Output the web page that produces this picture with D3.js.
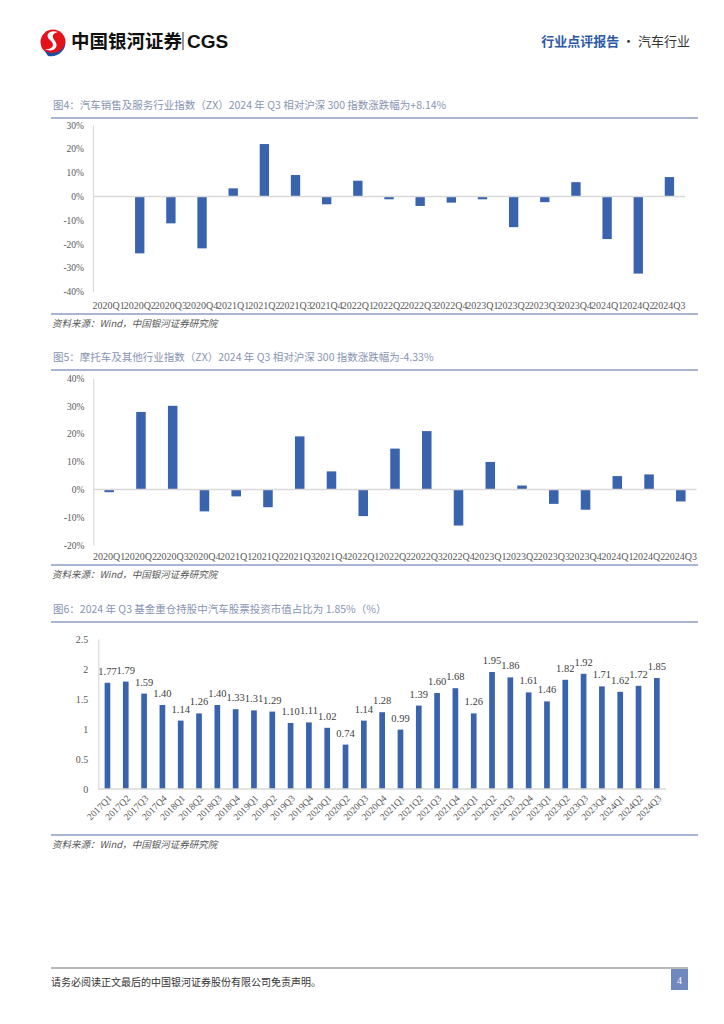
<!DOCTYPE html>
<meta charset="utf-8">
<script src="https://d3js.org/d3.v7.min.js"></script>
<style>
  body { margin: 0; background: #fff; }
  text { font-family: "Liberation Serif", "Noto Sans CJK SC", serif; }
  .cjk { font-family: "Noto Sans CJK SC", sans-serif; }
</style>
<body>
<div id="page"></div>
<script>
// quarters for fig 4 / fig 5
var quarters = ["2020Q1","2020Q2","2020Q3","2020Q4","2021Q1","2021Q2","2021Q3","2021Q4",
  "2022Q1","2022Q2","2022Q3","2022Q4","2023Q1","2023Q2","2023Q3","2023Q4","2024Q1","2024Q2","2024Q3"];
// 汽车销售及服务 relative to 沪深300 (%)
var autoSalesRel = [0, -23.9, -11.3, -21.8, 3.4, 22.0, 9.0, -3.3, 6.6, -1.2, -4.0, -2.6, -1.2, -12.9, -2.4, 6.0, -17.9, -32.4, 8.14];
// 摩托车及其他 relative to 沪深300 (%)
var motoRel = [-1.0, 27.9, 30.1, -7.9, -2.5, -6.4, 19.1, 6.5, -9.6, 14.7, 21.0, -13.0, 9.9, 1.4, -5.2, -7.3, 4.8, 5.4, -4.33];
var ticks4 = [30, 20, 10, 0, -10, -20, -30, -40];
var ticks5 = [40, 30, 20, 10, 0, -10, -20];

// fig 6: fund heavy-holding share of auto stocks (%)
var quarters6 = ["2017Q1","2017Q2","2017Q3","2017Q4","2018Q1","2018Q2","2018Q3","2018Q4",
  "2019Q1","2019Q2","2019Q3","2019Q4","2020Q1","2020Q2","2020Q3","2020Q4","2021Q1","2021Q2",
  "2021Q3","2021Q4","2022Q1","2022Q2","2022Q3","2022Q4","2023Q1","2023Q2","2023Q3","2023Q4",
  "2024Q1","2024Q2","2024Q3"];
var fundShare = [1.77, 1.79, 1.59, 1.40, 1.14, 1.26, 1.40, 1.33, 1.31, 1.29, 1.10, 1.11, 1.02, 0.74,
  1.14, 1.28, 0.99, 1.39, 1.60, 1.68, 1.26, 1.95, 1.86, 1.61, 1.46, 1.82, 1.92, 1.71, 1.62, 1.72, 1.85];
var ticks6 = [0, 0.5, 1, 1.5, 2, 2.5];

var barColor = "#3a63ad";
var ruleColor = "#8b9dc6";
var axisGray = "#d9d9d9";
var labelGray = "#595959";

var svg = d3.select("#page").append("svg")
  .attr("width", 724).attr("height", 1024);

// ---- header ----
var logo = svg.append("g");
logo.append("circle").attr("cx", 53).attr("cy", 42).attr("r", 12.5).attr("fill", "#e3121b");
logo.append("path")
  .attr("d", "M44,50 C52,56 64,52 65,42 C66,50 58,58 48,56 Z")
  .attr("fill", "#1f4fa0");
logo.append("path")
  .attr("d", "M58,32 C50,29 44,35 50,40 C56,45 52,50 45,49 C52,53 60,48 55,41 C51,36 53,33 58,32 Z")
  .attr("fill", "#fff");
svg.append("text").attr("class", "cjk").attr("x", 71).attr("y", 48)
  .attr("font-size", 18.5).attr("font-weight", "bold").attr("fill", "#111")
  .text("中国银河证券");
svg.append("line").attr("x1", 183).attr("x2", 183).attr("y1", 32).attr("y2", 50)
  .attr("stroke", "#333").attr("stroke-width", 1);
svg.append("text").attr("x", 187).attr("y", 48)
  .style("font-family", "Liberation Sans, sans-serif")
  .attr("font-size", 19).attr("font-weight", "bold").attr("fill", "#111")
  .text("CGS");
var hdr = svg.append("text").attr("class", "cjk").attr("x", 690).attr("y", 46)
  .attr("text-anchor", "end").attr("font-size", 13);
hdr.append("tspan").attr("fill", "#2d5aa6").attr("font-weight", "bold").text("行业点评报告");
hdr.append("tspan").attr("fill", "#333").text(" · 汽车行业");

// ---- helpers ----
function chartTitle(y, txt) {
  svg.append("text").attr("class", "cjk").attr("x", 53).attr("y", y)
    .attr("font-size", 10.5).attr("fill", "#8794b3").text(txt);
  svg.append("line").attr("x1", 51).attr("x2", 698).attr("y1", y + 9).attr("y2", y + 9)
    .attr("stroke", ruleColor).attr("stroke-width", 1.5);
}
function sourceNote(y) {
  svg.append("line").attr("x1", 51).attr("x2", 698).attr("y1", y).attr("y2", y)
    .attr("stroke", ruleColor).attr("stroke-width", 1.5);
  svg.append("text").attr("class", "cjk").attr("x", 52).attr("y", y + 13)
    .attr("font-size", 9.5).attr("fill", "#555").attr("font-style", "italic")
    .text("资料来源：Wind，中国银河证券研究院");
}

function diverging(o) {
  var x = d3.scaleBand().domain(quarters).range([o.x0, o.x1])
    .paddingInner(0.7).paddingOuter(0.35);
  var y = d3.scaleLinear().domain(o.domain).range([o.yBottom, o.yTop]);

  var ya = svg.append("g").attr("transform", "translate(" + o.x0 + ",0)")
    .call(d3.axisLeft(y).tickValues(o.ticks).tickSize(0).tickPadding(9)
      .tickFormat(function(d) { return d + "%"; }));
  ya.select(".domain").attr("stroke", axisGray).attr("stroke-width", 1.2);
  ya.selectAll("text").attr("font-size", 9.5).attr("fill", labelGray)
    .style("font-family", "Liberation Serif, serif");

  svg.append("g").selectAll("rect").data(o.values).join("rect")
    .attr("x", function(d, i) { return x(quarters[i]); })
    .attr("width", x.bandwidth())
    .attr("y", function(d) { return y(Math.max(0, d)); })
    .attr("height", function(d) { return Math.abs(y(d) - y(0)); })
    .attr("fill", barColor);

  svg.append("line").attr("x1", o.x0).attr("x2", o.x1)
    .attr("y1", y(0)).attr("y2", y(0))
    .attr("stroke", axisGray).attr("stroke-width", 1.5);

  var xa = svg.append("g").attr("transform", "translate(0," + o.xLabelY + ")")
    .call(d3.axisBottom(x).tickSize(0).tickPadding(0));
  xa.select(".domain").remove();
  xa.selectAll("text").attr("font-size", 10).attr("fill", labelGray)
    .style("font-family", "Liberation Serif, serif");
}

// ---- fig 4 ----
chartTitle(109, "图4：汽车销售及服务行业指数（ZX）2024 年 Q3 相对沪深 300 指数涨跌幅为+8.14%");
diverging({ values: autoSalesRel, ticks: ticks4, domain: [-40, 30],
  x0: 93, x1: 685, yTop: 125, yBottom: 291.7, xLabelY: 302 });
sourceNote(314);

// ---- fig 5 ----
chartTitle(361, "图5：摩托车及其他行业指数（ZX）2024 年 Q3 相对沪深 300 指数涨跌幅为-4.33%");
diverging({ values: motoRel, ticks: ticks5, domain: [-20, 40],
  x0: 93.3, x1: 696.7, yTop: 378.3, yBottom: 545, xLabelY: 553 });
sourceNote(565);

// ---- fig 6 ----
chartTitle(613, "图6：2024 年 Q3 基金重仓持股中汽车股票投资市值占比为 1.85%（%）");
(function() {
  var x = d3.scaleBand().domain(quarters6).range([98.3, 666])
    .paddingInner(0.69).paddingOuter(0.345);
  var y = d3.scaleLinear().domain([0, 2.5]).range([789, 639]);

  var ya = svg.append("g").attr("transform", "translate(98.3,0)")
    .call(d3.axisLeft(y).tickValues(ticks6).tickSize(0).tickPadding(10)
      .tickFormat(function(d) { return d; }));
  ya.select(".domain").attr("stroke", axisGray).attr("stroke-width", 1.2);
  ya.selectAll("text").attr("font-size", 10).attr("fill", labelGray)
    .style("font-family", "Liberation Serif, serif");

  svg.append("g").selectAll("rect").data(fundShare).join("rect")
    .attr("x", function(d, i) { return x(quarters6[i]); })
    .attr("width", x.bandwidth())
    .attr("y", function(d) { return y(d); })
    .attr("height", function(d) { return y(0) - y(d); })
    .attr("fill", barColor);

  svg.append("g").selectAll("text").data(fundShare).join("text")
    .attr("x", function(d, i) { return x(quarters6[i]) + x.bandwidth() / 2; })
    .attr("y", function(d) { return y(d) - 8; })
    .attr("text-anchor", "middle")
    .attr("font-size", 10.5).attr("fill", "#404040")
    .text(function(d) { return d.toFixed(2); });

  svg.append("line").attr("x1", 98.3).attr("x2", 666).attr("y1", y(0)).attr("y2", y(0))
    .attr("stroke", axisGray).attr("stroke-width", 1.5);

  var xa = svg.append("g").attr("transform", "translate(0,789)")
    .call(d3.axisBottom(x).tickSize(0));
  xa.select(".domain").remove();
  xa.selectAll("text")
    .attr("x", 0).attr("y", 0).attr("dy", null)
    .attr("text-anchor", "end")
    .attr("transform", "translate(5,10) rotate(-45)")
    .attr("font-size", 9.5).attr("fill", labelGray)
    .style("font-family", "Liberation Serif, serif");
})();
sourceNote(835);

// ---- footer ----
svg.append("line").attr("x1", 51).attr("x2", 688).attr("y1", 968).attr("y2", 968)
  .attr("stroke", "#777").attr("stroke-width", 1.2);
svg.append("text").attr("class", "cjk").attr("x", 51).attr("y", 986)
  .attr("font-size", 10).attr("fill", "#333")
  .text("请务必阅读正文最后的中国银河证券股份有限公司免责声明。");
svg.append("rect").attr("x", 671).attr("y", 969).attr("width", 17).attr("height", 21)
  .attr("fill", "#7088c0");
svg.append("text").attr("x", 679.5).attr("y", 984).attr("text-anchor", "middle")
  .attr("font-size", 10).attr("fill", "#fff").text("4");
</script>
</body>
